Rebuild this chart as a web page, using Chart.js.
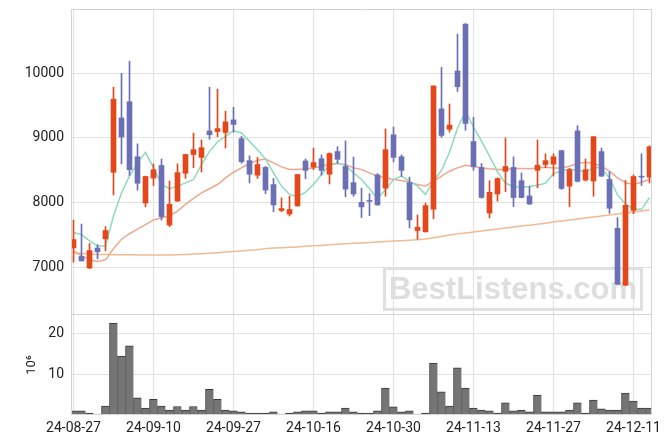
<!DOCTYPE html>
<html>
<head>
<meta charset="utf-8">
<script src="https://cdn.jsdelivr.net/npm/chart.js@4/dist/chart.umd.min.js"></script>
<style>
  body { margin: 0; background: #fff; }
  #wrap { position: relative; width: 671px; height: 444px; }
  #priceChart { position: absolute; left: 0; top: 0; }
  #volChart { position: absolute; left: 0; top: 315px; }
</style>
</head>
<body>
<div id="wrap">
  <canvas id="priceChart" width="671" height="315"></canvas>
  <canvas id="volChart" width="671" height="129"></canvas>
</div>
<script>
// trading days, 24-08-27 .. 24-12-13
const dates = [
  '24-08-27','24-08-28','24-08-29','24-08-30','24-09-02','24-09-03','24-09-04','24-09-05','24-09-06','24-09-09',
  '24-09-10','24-09-11','24-09-12','24-09-13','24-09-19','24-09-20','24-09-23','24-09-24','24-09-25','24-09-26',
  '24-09-27','24-09-30','24-10-02','24-10-04','24-10-07','24-10-08','24-10-10','24-10-11','24-10-14','24-10-15',
  '24-10-16','24-10-17','24-10-18','24-10-21','24-10-22','24-10-23','24-10-24','24-10-25','24-10-28','24-10-29',
  '24-10-30','24-10-31','24-11-01','24-11-04','24-11-05','24-11-06','24-11-07','24-11-08','24-11-11','24-11-12',
  '24-11-13','24-11-14','24-11-15','24-11-18','24-11-19','24-11-20','24-11-21','24-11-22','24-11-25','24-11-26',
  '24-11-27','24-11-28','24-11-29','24-12-02','24-12-03','24-12-04','24-12-05','24-12-06','24-12-09','24-12-10',
  '24-12-11','24-12-12','24-12-13'
];

const open = [
  7300, 7170, 6990, 7300, 7440, 8470, 9310, 9560, 8710, 7995,
  8380, 8575, 7655, 8025, 8455, 8745, 8700, 9110, 9100, 9085,
  9280, 8990, 8650, 8425, 8545, 8280, 7880, 7825, 7950, 8645,
  8550, 8680, 8440, 8790, 8560, 8310, 8005, 8035, 8430, 8225,
  9050, 8710, 8310, 7570, 7550, 7900, 9450, 9135, 10035, 10760,
  8945, 8545, 7840, 8135, 8485, 8545, 8340, 8105, 8500, 8590,
  8595, 8805, 8255, 9110, 8350, 8335, 8790, 8360, 7605, 6725,
  7880, 8405, 8395
];
const high = [
  7730, 7670, 7370, 7350, 7630, 9785, 10000, 10185, 8910, 8410,
  8600, 8675, 8335, 8600, 8750, 9075, 8970, 9785, 9755, 9415,
  9475, 9025, 8725, 8700, 8560, 8375, 8075, 8100, 8440, 8675,
  8845, 8740, 8770, 8865, 8955, 8705, 8225, 8140, 8450, 9140,
  9170, 8740, 8395, 7810, 7995, 9805, 10090, 9525, 10605, 10770,
  9320, 8605, 8340, 8385, 9000, 8710, 8460, 8255, 8970, 8755,
  8755, 8810, 8530, 9190, 8675, 9025, 8845, 8475, 7770, 8345,
  8430, 8755, 8880
];
const low = [
  7080, 7100, 6980, 7130, 7255, 8120, 8600, 8420, 8195, 7935,
  8265, 7730, 7630, 8020, 8375, 8540, 8475, 8980, 9020, 8845,
  9090, 8610, 8305, 8375, 8140, 7860, 7860, 7795, 7945, 8370,
  8510, 8425, 8290, 8605, 8090, 8100, 7770, 7800, 7960, 8100,
  8630, 8405, 7610, 7435, 7545, 7750, 9010, 9090, 9720, 9120,
  8500, 8070, 7765, 8025, 8170, 7940, 8075, 7970, 8230, 8540,
  8410, 8205, 7940, 8320, 8335, 8100, 8405, 7835, 6735, 6720,
  7830, 8265, 8305
];
const close = [
  7430, 7100, 7260, 7240, 7570, 9600, 9015, 8510, 8300, 8405,
  8510, 7785, 7975, 8465, 8745, 8820, 8850, 9050, 9145, 9250,
  9210, 8635, 8440, 8590, 8195, 7965, 7910, 7895, 8435, 8500,
  8620, 8500, 8760, 8670, 8210, 8135, 7935, 8020, 7965, 8820,
  8700, 8500, 7735, 7620, 7955, 9805, 9040, 9200, 9795, 9225,
  8555, 8080, 8160, 8375, 8560, 8080, 8080, 7980, 8580, 8650,
  8710, 8220, 8510, 8330, 8510, 9020, 8410, 7915, 6740, 7960,
  8405, 8395, 8865
];

// moving averages
const ma5 = [
  7538, 7507, 7410, 7332, 7332, 7794, 8153, 8410, 8615, 8779,
  8538, 8281, 8215, 8256, 8307, 8358, 8589, 8794, 8938, 9025,
  9113, 9077, 8948, 8820, 8676, 8461, 8256, 8128, 8092, 8164,
  8281, 8435, 8589, 8615, 8574, 8461, 8358, 8215, 8061, 8205,
  8358, 8410, 8333, 8256, 8128, 8333, 8500, 8780, 9150, 9410,
  9170, 8950, 8720, 8480, 8300, 8250, 8240, 8250, 8270, 8300,
  8450, 8490, 8520, 8500, 8480, 8540, 8540, 8380, 8120, 7980,
  7897, 7897, 8076
];
const ma20 = [
  7256, 7178, 7117, 7091, 7117, 7290, 7435, 7520, 7590, 7660,
  7733, 7768, 7795, 7871, 7974, 8066, 8153, 8215, 8281, 8384,
  8471, 8538, 8605, 8656, 8676, 8615, 8553, 8512, 8512, 8523,
  8538, 8564, 8589, 8605, 8589, 8538, 8512, 8461, 8410, 8384,
  8358, 8343, 8317, 8281, 8256, 8333, 8410, 8487, 8538, 8579,
  8564, 8538, 8523, 8512, 8512, 8528, 8528, 8523, 8538, 8548,
  8538, 8538, 8564, 8605, 8625, 8605, 8564, 8487, 8384, 8307,
  8281, 8317, 8358
];
const ma60 = [
  7230, 7215, 7205, 7200, 7198, 7196, 7195, 7194, 7193, 7192,
  7191, 7190, 7192, 7196, 7200, 7206, 7212, 7220, 7228, 7236,
  7244, 7254, 7264, 7274, 7290, 7298, 7305, 7311, 7317, 7325,
  7333, 7340, 7348, 7356, 7364, 7372, 7378, 7385, 7392, 7399,
  7406, 7413, 7420, 7428, 7438, 7458, 7478, 7500, 7518, 7533,
  7548, 7563, 7578, 7593, 7608, 7623, 7638, 7653, 7668, 7683,
  7700, 7716, 7732, 7748, 7764, 7780, 7795, 7810, 7825, 7840,
  7855, 7870, 7886
];

// volume, millions of shares
const volume = [
  1.0, 1.0, 0.5, 0.25, 2.2, 22.6, 14.5, 17.0, 4.2, 1.7,
  3.85, 2.2, 1.2, 2.1, 1.2, 2.1, 1.2, 6.3, 3.85, 1.2,
  1.0, 0.75, 0.5, 0.5, 0.5, 0.75, 0.25, 0.5, 0.75, 1.0,
  1.0, 0.5, 0.75, 0.75, 1.7, 0.75, 0.5, 0.5, 1.0, 6.6,
  2.0, 0.75, 1.0, 0.25, 0.5, 12.8, 5.7, 2.2, 11.6, 6.6,
  1.7, 1.2, 1.0, 0.5, 3.0, 1.0, 1.2, 0.75, 4.9, 0.75,
  0.75, 0.75, 1.2, 3.0, 0.5, 3.7, 1.5, 1.2, 1.2, 5.4,
  3.4, 1.7, 1.7
];

const dateTicks = [0, 10, 20, 30, 40, 50, 60, 70];
const priceTicks = [7000, 8000, 9000, 10000];
const volumeTicks = [10, 20];

const upColor = '#e4481a';
const downColor = '#6b70b6';
const gridColor = '#e2e2e2';
const frameColor = '#d4d4d4';
const labelColor = '#222';
const labelFont = { family: 'Roboto, sans-serif', size: 14 };

Chart.defaults.animation = false;
Chart.defaults.events = [];
Chart.defaults.plugins.legend.display = false;
Chart.defaults.plugins.tooltip.enabled = false;

const idx = dates.map((d, i) => i);
const candleColors = idx.map(i => close[i] >= open[i] ? upColor : downColor);
const asPoints = arr => arr.map((v, i) => ({ x: i, y: v }));

function xAxis(showLabels) {
  return {
    type: 'linear',
    offset: false,
    min: -0.3125,
    max: 72.1875,
    afterBuildTicks: s => { s.ticks = dateTicks.map(v => ({ value: v })); },
    afterFit: s => {
      s.height = showLabels ? 29 : 0;
      s.paddingLeft = 0;
      s.paddingRight = 0;
    },
    ticks: {
      display: showLabels, autoSkip: false, maxRotation: 0, padding: 5,
      color: labelColor, font: labelFont,
      callback: v => dates[v]
    },
    grid: { color: gridColor, drawTicks: false, offset: false },
    border: { display: false }
  };
}

function yAxis(min, max, tickValues) {
  return {
    min: min,
    max: max,
    afterBuildTicks: s => { s.ticks = tickValues.map(v => ({ value: v })); },
    afterFit: s => {
      s.width = 71;
      s.paddingTop = 0;
      s.paddingBottom = 0;
    },
    ticks: { padding: 7, color: labelColor, font: labelFont, callback: v => String(v) },
    grid: { color: gridColor, drawTicks: false },
    border: { display: false }
  };
}

const frame = {
  id: 'frame',
  afterDraw(chart, args, opts) {
    const { left, top, right, bottom } = chart.chartArea;
    const ctx = chart.ctx;
    ctx.save();
    ctx.strokeStyle = frameColor;
    ctx.lineWidth = 1;
    ctx.beginPath();
    if (opts.top) { ctx.moveTo(left, top + 0.5); ctx.lineTo(right + 1, top + 0.5); }
    ctx.moveTo(left + 0.5, top); ctx.lineTo(left + 0.5, bottom);
    ctx.moveTo(right + 0.5, top); ctx.lineTo(right + 0.5, bottom);
    ctx.moveTo(left, bottom - 0.5); ctx.lineTo(right + 1, bottom - 0.5);
    ctx.stroke();
    ctx.restore();
  }
};

const watermark = {
  id: 'watermark',
  beforeDatasetsDraw(chart) {
    const ctx = chart.ctx;
    ctx.save();
    ctx.strokeStyle = '#e0e0e0';
    ctx.lineWidth = 3;
    ctx.strokeRect(384.5, 268.5, 257, 41);
    ctx.fillStyle = '#dedede';
    ctx.font = "bold 31px 'Liberation Sans', Arial, sans-serif";
    ctx.textAlign = 'center';
    ctx.textBaseline = 'middle';
    ctx.fillText('BestListens.com', 513, 290);
    ctx.restore();
  }
};

new Chart(document.getElementById('priceChart'), {
  type: 'bar',
  data: {
    datasets: [
      {
        label: 'body',
        data: idx.map(i => ({ x: i, y: [open[i], close[i]] })),
        backgroundColor: candleColors,
        barThickness: 5,
        minBarLength: 1,
        grouped: false
      },
      {
        label: 'wick',
        data: idx.map(i => ({ x: i, y: [low[i], high[i]] })),
        backgroundColor: candleColors,
        barThickness: 1,
        grouped: false
      },
      { type: 'line', label: 'MA5', data: asPoints(ma5), borderColor: '#8fd9c0', borderWidth: 1.5, pointRadius: 0 },
      { type: 'line', label: 'MA20', data: asPoints(ma20), borderColor: '#eea78c', borderWidth: 1.5, pointRadius: 0 },
      { type: 'line', label: 'MA60', data: asPoints(ma60), borderColor: '#f0bb92', borderWidth: 1.5, pointRadius: 0 }
    ]
  },
  options: {
    responsive: false,
    layout: { padding: { top: 9, right: 20, left: 0, bottom: 0 } },
    scales: {
      x: xAxis(false),
      y: yAxis(6264, 10994, priceTicks)
    },
    plugins: { frame: { top: true } }
  },
  plugins: [watermark, frame]
});

const volY = yAxis(0, 24.6, volumeTicks);
volY.title = {
  display: true, text: '10\u2076', color: labelColor,
  font: { family: 'Roboto, sans-serif', size: 13 },
  padding: { top: 24, bottom: 0 }
};

new Chart(document.getElementById('volChart'), {
  type: 'bar',
  data: {
    datasets: [{
      label: 'Volume',
      data: asPoints(volume),
      backgroundColor: '#757575',
      borderColor: '#3a3a3a',
      borderWidth: { top: 1, left: 1, right: 0, bottom: 0 },
      barPercentage: 1,
      categoryPercentage: 1
    }]
  },
  options: {
    responsive: false,
    layout: { padding: { top: 0, right: 20, left: 0, bottom: 0 } },
    scales: {
      x: xAxis(true),
      y: volY
    },
    plugins: { frame: { top: false } }
  },
  plugins: [frame]
});
</script>
</body>
</html>
